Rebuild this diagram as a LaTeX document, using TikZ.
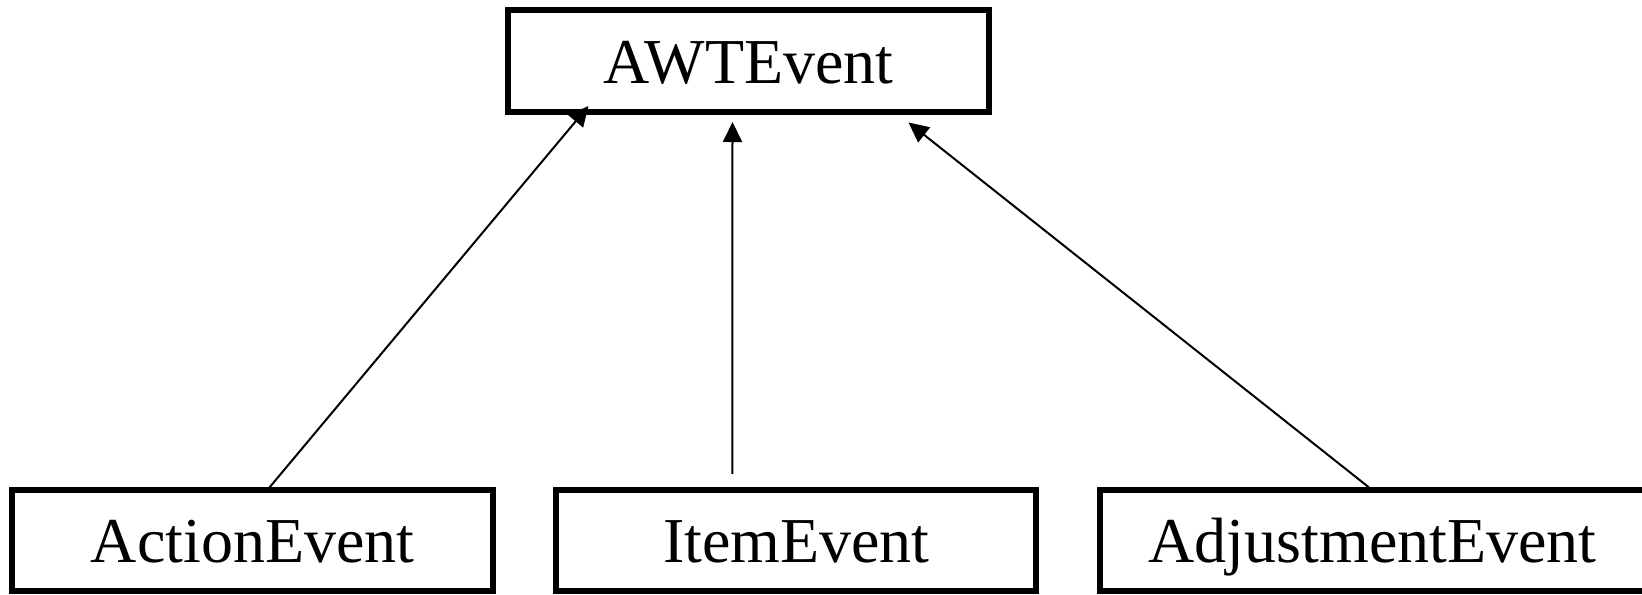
\documentclass[tikz,border=0pt]{standalone}
\usepackage{fontspec}
\setmainfont{Liberation Serif}
\usetikzlibrary{arrows.meta,calc}

\begin{document}
\begin{tikzpicture}[
  x=0.5pt, y=-0.5pt,
  classbox/.style={draw=black, line width=3pt, inner sep=0pt,
    minimum height=50.5pt, text height=22pt, text depth=0pt,
    font=\fontsize{32pt}{36pt}\selectfont},
  inherit/.style={line width=1pt, -{Triangle[length=10pt,width=9.5pt]}}
]
  % page area
  \useasboundingbox[fill=white] (0,0) rectangle (1642,594);

  % superclass
  \node[classbox, minimum width=240.2pt, minimum height=50.8pt] (awt) at (748.5,61.2) {AWTEvent};

  % subclasses
  \node[classbox, minimum width=240.7pt] (action) at (252.7,540.7) {ActionEvent};
  \node[classbox, minimum width=240pt]   (item)   at (796.3,540.7) {ItemEvent};
  \node[classbox, minimum width=272.3pt] (adjust) at (1372.7,540.7) {AdjustmentEvent};

  % generalisation arrows
  \draw[inherit] ($(action.north)+(17,0)$) -- ($(awt.south)+(-160,-9)$);
  \draw[inherit] ($(item.north)+(-64,-13)$) -- ($(awt.south)+(-16,7)$);
  \draw[inherit] ($(adjust.north)+(-4,0)$) -- ($(awt.south)+(160,7.5)$);
\end{tikzpicture}
\end{document}
